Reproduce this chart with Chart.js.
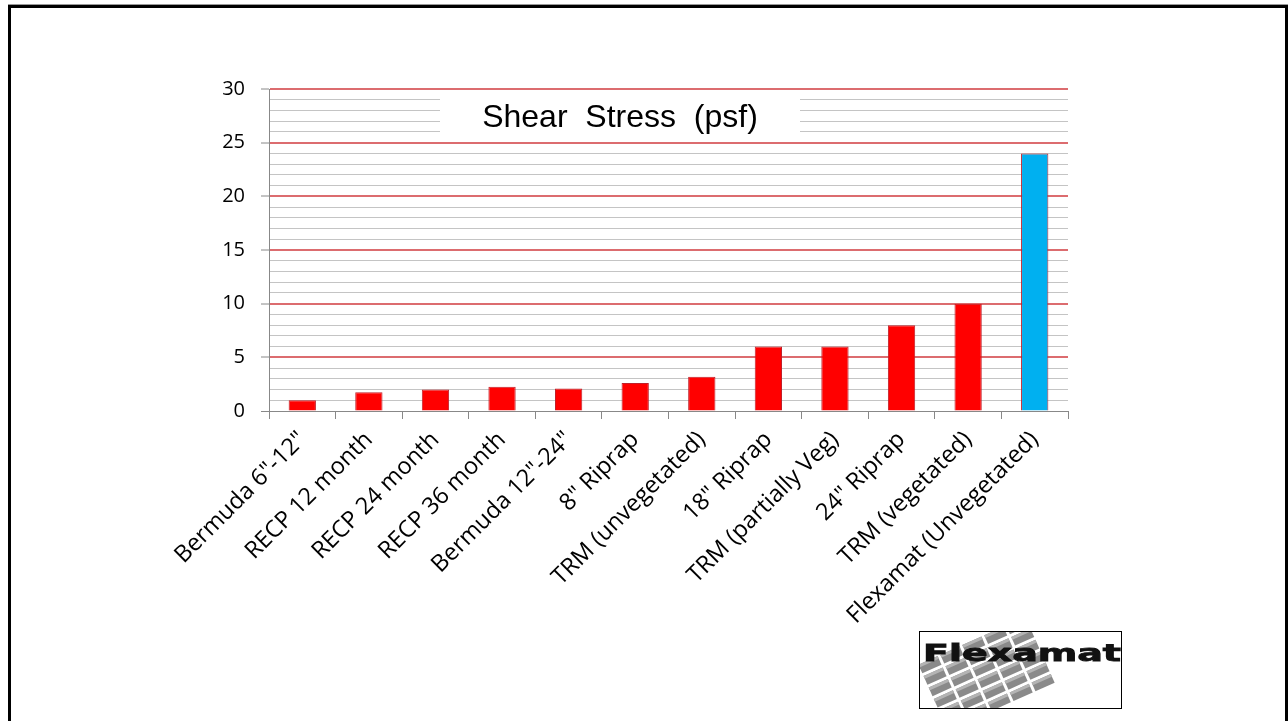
<!DOCTYPE html>
<html>
<head>
<meta charset="utf-8">
<script src="https://cdn.jsdelivr.net/npm/chart.js@4.4.1/dist/chart.umd.min.js"></script>
<style>
  body { margin: 0; background: #fff; width: 1288px; height: 721px; overflow: hidden; position: relative; }
  #frame { position: absolute; left: 8px; top: 5px; width: 1274px; height: 730px; border: 3px solid #000; border-bottom: none; box-shadow: 0 -1px 0 #999; }
  #wrap { position: absolute; left: 0; top: 0; width: 1288px; height: 721px; }
  #logo { position: absolute; left: 919px; top: 631px; width: 201px; height: 76px; border: 1px solid #000; background: #fff; overflow: hidden; }
</style>
</head>
<body>
<div id="frame"></div>
<div id="wrap"><canvas id="chart"></canvas></div>
<div id="logo"><canvas id="logoCanvas" width="201" height="76"></canvas></div>
<script>
const categories = [
    'Bermuda 6"-12"', 'RECP 12 month', 'RECP 24 month', 'RECP 36 month',
    'Bermuda 12"-24"', '8" Riprap', 'TRM (unvegetated)', '18" Riprap',
    'TRM (partially Veg)', '24" Riprap', 'TRM (vegetated)', 'Flexamat (Unvegetated)'
];
const shearStress = [1, 1.75, 2, 2.25, 2.1, 2.6, 3.2, 6, 6, 8, 10, 24];
const barColors = ['#FF0000', '#FF0000', '#FF0000', '#FF0000', '#FF0000', '#FF0000',
    '#FF0000', '#FF0000', '#FF0000', '#FF0000', '#FF0000', '#00B0F0'];
const yTicksMajor = [0, 5, 10, 15, 20, 25, 30];
const chartTitle = 'Shear Stress (psf)';

// white box with the title, sitting on the grid like the original slide
const titleBox = {
    id: 'titleBox',
    beforeDatasetsDraw(chart) {
        const ctx = chart.ctx;
        const y = chart.scales.y;
        const top = y.getPixelForValue(29.8);
        const bottom = y.getPixelForValue(25.2);
        ctx.save();
        ctx.fillStyle = '#fff';
        ctx.fillRect(440, top, 360, bottom - top);
        ctx.fillStyle = '#000';
        ctx.font = '32px "Liberation Sans", Arial, sans-serif';
        ctx.textAlign = 'center';
        ctx.textBaseline = 'alphabetic';
        ctx.fillText(chartTitle.split(' ').join('  '), 620, 127);
        ctx.restore();
    }
};

new Chart(document.getElementById('chart'), {
    type: 'bar',
    data: {
        labels: categories,
        datasets: [{
            data: shearStress,
            backgroundColor: barColors,
            borderColor: '#C0202A',
            borderWidth: 1,
            categoryPercentage: 1,
            barPercentage: 0.41
        }]
    },
    options: {
        responsive: true,
        maintainAspectRatio: false,
        animation: false,
        layout: { padding: { left: 200, right: 220, top: 89, bottom: 40 } },
        plugins: { legend: { display: false }, tooltip: { enabled: false }, title: { display: false } },
        scales: {
            x: {
                afterFit(scale) { scale.height = 270; },
                grid: { drawOnChartArea: false, offset: true, tickLength: 8, color: '#888' },
                border: { color: '#888' },
                ticks: {
                    font: { family: 'Open Sans', size: 23.5 },
                    color: '#000', maxRotation: 45, minRotation: 45, autoSkip: false, padding: 7
                }
            },
            y: {
                min: 0,
                max: 30,
                afterFit(scale) { scale.width = 69; },
                border: { color: '#888' },
                grid: {
                    tickLength: 8,
                    lineWidth(ctx) {
                        const v = ctx.tick.value;
                        return v !== 0 && yTicksMajor.includes(v) ? 2 : 1;
                    },
                    color(ctx) {
                        const v = ctx.tick.value;
                        if (v === 0) return '#888';
                        return yTicksMajor.includes(v) ? 'rgba(205,45,50,0.7)' : '#C4C4C4';
                    },
                    tickColor(ctx) {
                        return yTicksMajor.includes(ctx.tick.value) ? '#888' : 'rgba(0,0,0,0)';
                    },
                    tickWidth: 1
                },
                ticks: {
                    stepSize: 1,
                    autoSkip: false,
                    font: { family: 'Open Sans', size: 20 },
                    color: '#000',
                    padding: 16,
                    callback(v) { return yTicksMajor.includes(v) ? String(v) : ''; }
                }
            }
        }
    },
    plugins: [titleBox]
});

// Flexamat logo
(function drawLogo() {
    const c = document.getElementById('logoCanvas');
    const ctx = c.getContext('2d');
    ctx.save();
    ctx.translate(74, 40);
    ctx.rotate(-0.42);
    for (let r = -3; r <= 2; r++) {
        for (let col = -3; col <= 1; col++) {
            const x = col * 24 + 6;
            const y = r * 12.5;
            ctx.fillStyle = '#8a8a8a';
            ctx.fillRect(x, y, 21, 9.5);
            ctx.fillStyle = '#b4b4b4';
            ctx.fillRect(x, y, 21, 3);
        }
    }
    ctx.restore();
    ctx.save();
    ctx.font = 'bold 22px "DejaVu Sans", sans-serif';
    const w = ctx.measureText('Flexamat').width;
    ctx.translate(3, 29);
    ctx.scale(198 / w, 1.05);
    ctx.fillStyle = '#111';
    ctx.lineWidth = 0.8;
    ctx.strokeStyle = '#111';
    ctx.fillText('Flexamat', 0, 0);
    ctx.strokeText('Flexamat', 0, 0);
    ctx.restore();
})();
</script>
</body>
</html>
